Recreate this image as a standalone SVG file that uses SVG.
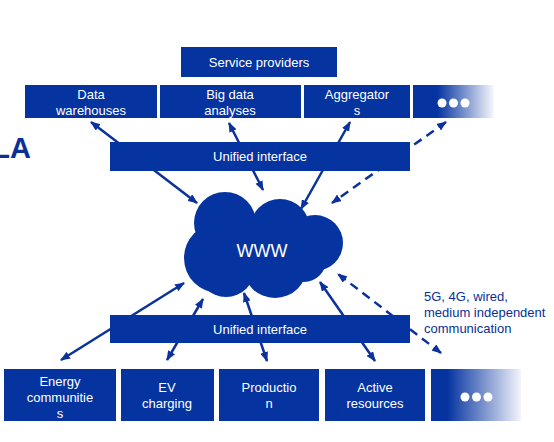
<svg xmlns="http://www.w3.org/2000/svg" width="554" height="442" viewBox="0 0 554 442">
<style>
.box{fill:#0533a0}
.t{font-family:"Liberation Sans",Arial,sans-serif;font-size:13px;fill:#ffffff;text-anchor:middle}
.lbl{font-family:"Liberation Sans",Arial,sans-serif;font-size:13px;fill:#0a2f96}
.c{stroke:#0a319c;stroke-width:2.5;fill:none}
.d{stroke-dasharray:9 6}
.dot{fill:#ffffff}
</style>
<defs>
<marker id="ah" viewBox="0 0 10 8" refX="9" refY="4" markerWidth="10" markerHeight="8" markerUnits="userSpaceOnUse" orient="auto-start-reverse">
<path d="M0,0 L10,4 L0,8 z" fill="#0a319c" stroke="none"/>
</marker>
<linearGradient id="g1" x1="0" y1="0" x2="1" y2="0">
<stop offset="0.3" stop-color="#0533a0" stop-opacity="1"/>
<stop offset="1" stop-color="#0533a0" stop-opacity="0.03"/>
</linearGradient>
<linearGradient id="g2" x1="0" y1="0" x2="1" y2="0">
<stop offset="0.18" stop-color="#0533a0" stop-opacity="1"/>
<stop offset="1" stop-color="#0533a0" stop-opacity="0.05"/>
</linearGradient>
</defs>
<rect width="554" height="442" fill="#ffffff"/>
<text x="31" y="158" font-family="Liberation Sans, Arial, sans-serif" font-size="29" font-weight="bold" fill="#0a2f96" text-anchor="end">LA</text>

<g id="connectors">
<line class="c" x1="91" y1="122" x2="197" y2="203" marker-start="url(#ah)" marker-end="url(#ah)"/>
<line class="c" x1="229" y1="123" x2="263" y2="190" marker-start="url(#ah)" marker-end="url(#ah)"/>
<line class="c" x1="350" y1="122" x2="301" y2="209" marker-start="url(#ah)" marker-end="url(#ah)"/>
<line class="c d" x1="446" y1="122" x2="332" y2="203" marker-start="url(#ah)" marker-end="url(#ah)"/>
<line class="c" x1="61" y1="360" x2="184" y2="283" marker-start="url(#ah)" marker-end="url(#ah)"/>
<line class="c" x1="167" y1="360" x2="203" y2="299" marker-start="url(#ah)" marker-end="url(#ah)"/>
<line class="c" x1="267" y1="361" x2="244" y2="293" marker-start="url(#ah)" marker-end="url(#ah)"/>
<line class="c" x1="375" y1="361" x2="320" y2="282" marker-start="url(#ah)" marker-end="url(#ah)"/>
<line class="c d" x1="441" y1="353" x2="338" y2="274" marker-start="url(#ah)" marker-end="url(#ah)"/>
</g>

<g id="service-providers">
<rect class="box" x="181" y="47" width="156" height="30"/>
<text class="t" x="259" y="67">Service providers</text>
</g>
<g id="data-warehouses">
<rect class="box" x="25" y="85" width="132" height="33"/>
<text class="t" x="91" y="99">Data</text>
<text class="t" x="91" y="115">warehouses</text>
</g>
<g id="big-data">
<rect class="box" x="160" y="85" width="141" height="33"/>
<text class="t" x="230" y="99">Big data</text>
<text class="t" x="230" y="115">analyses</text>
</g>
<g id="aggregators">
<rect class="box" x="304" y="85" width="106" height="33"/>
<text class="t" x="357" y="99">Aggregator</text>
<text class="t" x="357" y="115">s</text>
</g>
<g id="more-top">
<rect x="413" y="85" width="81" height="33" fill="url(#g1)"/>
<circle class="dot" cx="442" cy="103" r="4.5"/>
<circle class="dot" cx="453.5" cy="103" r="4.5"/>
<circle class="dot" cx="465" cy="103" r="4.5"/>
</g>
<g id="unified-top">
<rect class="box" x="110" y="142" width="300" height="29"/>
<text class="t" x="260" y="161">Unified interface</text>
</g>

<g id="www">
<g fill="#0533a0">
<circle cx="225" cy="223" r="31"/>
<circle cx="280" cy="229" r="30"/>
<circle cx="315" cy="243" r="28"/>
<circle cx="219" cy="258" r="35"/>
<circle cx="226" cy="268" r="29"/>
<circle cx="275" cy="266" r="32"/>
<circle cx="304" cy="260" r="22"/>
<rect x="220" y="228" width="90" height="42"/>
</g>
<text x="262" y="257" font-family="Liberation Sans, Arial, sans-serif" font-size="18" fill="#ffffff" text-anchor="middle">WWW</text>
</g>

<g id="unified-bottom">
<rect class="box" x="110" y="315" width="300" height="28"/>
<text class="t" x="260" y="334">Unified interface</text>
</g>

<g id="comm-label">
<text class="lbl" x="424" y="301">5G, 4G, wired,</text>
<text class="lbl" x="424" y="317">medium independent</text>
<text class="lbl" x="424" y="333">communication</text>
</g>

<g id="energy-communities">
<rect class="box" x="4" y="369" width="112" height="52"/>
<text class="t" x="60" y="386">Energy</text>
<text class="t" x="60" y="402">communitie</text>
<text class="t" x="60" y="418">s</text>
</g>
<g id="ev-charging">
<rect class="box" x="121" y="369" width="93" height="52"/>
<text class="t" x="167" y="392">EV</text>
<text class="t" x="167" y="408">charging</text>
</g>
<g id="production">
<rect class="box" x="219" y="369" width="100" height="52"/>
<text class="t" x="269" y="392">Productio</text>
<text class="t" x="269" y="408">n</text>
</g>
<g id="active-resources">
<rect class="box" x="325" y="369" width="100" height="52"/>
<text class="t" x="375" y="392">Active</text>
<text class="t" x="375" y="408">resources</text>
</g>
<g id="more-bottom">
<rect x="431" y="369" width="90" height="52" fill="url(#g2)"/>
<circle class="dot" cx="465" cy="397" r="4.5"/>
<circle class="dot" cx="476.5" cy="397" r="4.5"/>
<circle class="dot" cx="488" cy="397" r="4.5"/>
</g>
</svg>
